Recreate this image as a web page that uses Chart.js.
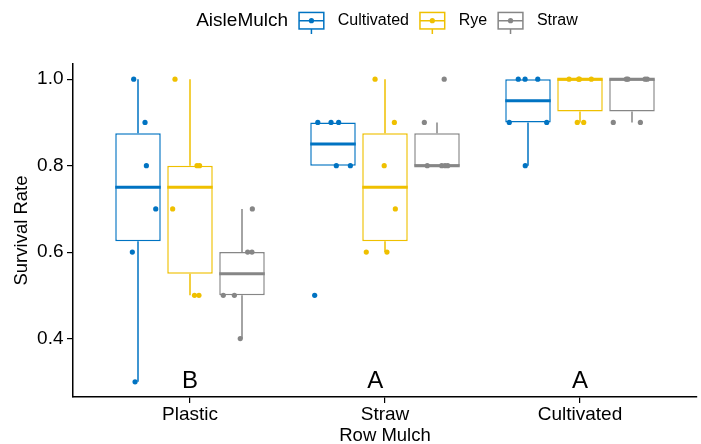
<!DOCTYPE html>
<html>
<head>
<meta charset="utf-8">
<script src="https://cdn.jsdelivr.net/npm/chart.js@4"></script>
<style>
  html, body { margin: 0; padding: 0; background: #ffffff; }
  #wrap { width: 701px; height: 444px; }
</style>
</head>
<body>
<div id="wrap"><canvas id="c" width="701" height="444"></canvas></div>
<script>
// Row mulch treatments (x categories) and aisle mulch groups (fill/colour groups)
const ROW_MULCH = ['Plastic', 'Straw', 'Cultivated'];
const AISLE_MULCH = ['Cultivated', 'Rye', 'Straw'];

// Survival rate observations per aisle mulch, one list per row mulch
const SURV_CULTIVATED = [
  [1.0, 0.9, 0.8, 0.7, 0.6, 0.3],
  [0.9, 0.9, 0.9, 0.8, 0.8, 0.5],
  [1.0, 1.0, 1.0, 0.9, 0.9, 0.8]
];
const SURV_RYE = [
  [1.0, 0.8, 0.8, 0.7, 0.5, 0.5],
  [1.0, 0.9, 0.8, 0.7, 0.6, 0.6],
  [1.0, 1.0, 1.0, 1.0, 0.9, 0.9]
];
const SURV_STRAW = [
  [0.7, 0.6, 0.6, 0.5, 0.5, 0.4],
  [1.0, 0.9, 0.8, 0.8, 0.8, 0.8],
  [1.0, 1.0, 1.0, 1.0, 0.9, 0.9]
];

// Horizontal jitter of each observation (category units, relative to its box)
const JITTER_CULTIVATED = [
  [-0.022, 0.036, 0.043, 0.091, -0.029, -0.015],
  [-0.078, -0.010, 0.029, 0.017, 0.089, -0.094],
  [-0.050, -0.015, 0.050, -0.096, 0.096, -0.014]
];
const JITTER_RYE = [
  [-0.077, 0.036, 0.049, -0.089, 0.023, 0.046],
  [-0.051, 0.048, -0.004, 0.053, -0.096, 0.010],
  [-0.056, -0.007, 0.058, -0.003, -0.014, 0.019]
];
const JITTER_STRAW = [
  [0.053, 0.029, 0.051, -0.096, -0.039, -0.009],
  [0.037, -0.065, -0.050, 0.024, 0.041, 0.055],
  [-0.029, 0.078, -0.021, 0.067, -0.096, 0.043]
];

// Y axis ticks
const Y_TICKS = [0.4, 0.6, 0.8, 1.0];

// Significance letters per row mulch
const SIG_LETTERS = ['B', 'A', 'A'];
const SIG_X = [1, 1.95, 3];
const SIG_Y = 0.3;

// ---- styling / geometry ----
const COLORS = ['#0073C2', '#EFC000', '#868686'];
const DODGE = 0.8 / 3;        // spacing between dodged boxes
const BOX_FRAC = 0.875;       // box width as share of a dodge slot
const FONT = '"Liberation Sans", Arial, Helvetica, sans-serif';

const SURV = [SURV_CULTIVATED, SURV_RYE, SURV_STRAW];
const JITTER = [JITTER_CULTIVATED, JITTER_RYE, JITTER_STRAW];

function quantile(sorted, p) {
  const h = (sorted.length - 1) * p;
  const lo = Math.floor(h);
  const hi = Math.min(lo + 1, sorted.length - 1);
  return sorted[lo] + (h - lo) * (sorted[hi] - sorted[lo]);
}
function boxStats(vals) {
  const s = [...vals].sort((a, b) => a - b);
  const q1 = quantile(s, 0.25), med = quantile(s, 0.5), q3 = quantile(s, 0.75);
  const iqr = q3 - q1;
  const inside = s.filter(v => v >= q1 - 1.5 * iqr - 1e-9 && v <= q3 + 1.5 * iqr + 1e-9);
  return { q1, med, q3, lo: Math.min(...inside), hi: Math.max(...inside) };
}

const halfBox = DODGE * BOX_FRAC / 2;
const datasets = [];

AISLE_MULCH.forEach((name, g) => {
  const color = COLORS[g];
  const pts = [], boxes = [], medians = [], whiskers = [];
  ROW_MULCH.forEach((_, r) => {
    const pos = r + 1 + (g - 1) * DODGE;
    const st = boxStats(SURV[g][r]);
    boxes.push({ x: pos, y: [st.q1, st.q3] });
    medians.push({ x: pos - halfBox, y: st.med }, { x: pos + halfBox, y: st.med }, { x: pos, y: null });
    if (st.hi > st.q3) whiskers.push({ x: pos, y: st.q3 }, { x: pos, y: st.hi }, { x: pos, y: null });
    if (st.lo < st.q1) whiskers.push({ x: pos, y: st.q1 }, { x: pos, y: st.lo }, { x: pos, y: null });
    SURV[g][r].forEach((v, i) => pts.push({ x: pos + JITTER[g][r][i], y: v }));
  });

  datasets.push({
    type: 'scatter', label: name, data: pts, order: 0,
    backgroundColor: color, borderWidth: 0,
    pointRadius: 2.6, pointHoverRadius: 2.6, showLine: false
  });
  datasets.push({
    type: 'line', label: name + ' median', data: medians, order: 1,
    borderColor: color, borderWidth: 3, borderCapStyle: 'butt',
    pointRadius: 0, pointHoverRadius: 0, fill: false, spanGaps: false, tension: 0
  });
  datasets.push({
    type: 'line', label: name + ' whisker', data: whiskers, order: 2,
    borderColor: color, borderWidth: 1.5, borderCapStyle: 'butt',
    pointRadius: 0, pointHoverRadius: 0, fill: false, spanGaps: false, tension: 0
  });
  datasets.push({
    type: 'bar', label: name + ' box', data: boxes, order: 3,
    backgroundColor: '#ffffff', borderColor: color, borderWidth: 1.5,
    borderSkipped: false, grouped: false,
    barPercentage: BOX_FRAC, categoryPercentage: 1
  });
});

// Significance letters above the x axis
const letterPlugin = {
  id: 'sigLetters',
  afterDatasetsDraw(chart) {
    const { ctx, scales: { x, y } } = chart;
    ctx.save();
    ctx.font = '24px ' + FONT;
    ctx.fillStyle = '#000';
    ctx.textAlign = 'center';
    ctx.textBaseline = 'middle';
    SIG_LETTERS.forEach((t, i) => ctx.fillText(t, x.getPixelForValue(SIG_X[i]), y.getPixelForValue(SIG_Y)));
    ctx.restore();
  }
};

// Legend row: title followed by boxplot keys, centred over the plot panel
const legendPlugin = {
  id: 'boxLegend',
  afterDraw(chart) {
    const { ctx, chartArea } = chart;
    const titleFont = '19px ' + FONT, labelFont = '16px ' + FONT;
    const key = 33, bw = key * 0.75, bh = key * 0.5;
    const gapBefore = 11, gapAfter = 14;
    ctx.save();
    ctx.font = titleFont;
    const titleW = ctx.measureText('AisleMulch').width;
    ctx.font = labelFont;
    const labelW = AISLE_MULCH.map(t => ctx.measureText(t).width);
    let total = titleW;
    labelW.forEach(w => { total += gapBefore + bw + gapAfter + w; });
    let x = (chartArea.left + chartArea.right) / 2 + 2 - total / 2;
    const cy = 21;
    ctx.fillStyle = '#000';
    ctx.textBaseline = 'middle';
    ctx.textAlign = 'left';
    ctx.font = titleFont;
    ctx.fillText('AisleMulch', x, cy);
    x += titleW + gapBefore;
    AISLE_MULCH.forEach((t, g) => {
      const c = COLORS[g];
      const kx = x + bw / 2, ky = cy - 0.3;
      ctx.strokeStyle = c;
      ctx.lineWidth = 1.5;
      ctx.strokeRect(kx - bw / 2, ky - bh / 2, bw, bh);
      ctx.beginPath();
      ctx.moveTo(kx - bw / 2, ky); ctx.lineTo(kx + bw / 2, ky);
      ctx.moveTo(kx, ky + bh / 2); ctx.lineTo(kx, ky + key * 0.4);
      ctx.stroke();
      ctx.fillStyle = c;
      ctx.beginPath(); ctx.arc(kx, ky, 2.6, 0, Math.PI * 2); ctx.fill();
      x += bw + gapAfter;
      ctx.fillStyle = '#000';
      ctx.font = labelFont;
      ctx.fillText(t, x, cy);
      x += labelW[g] + gapBefore;
    });
    ctx.restore();
  }
};

Chart.defaults.font.family = FONT;
Chart.defaults.color = '#000';

new Chart(document.getElementById('c'), {
  type: 'bar',
  data: { datasets },
  plugins: [letterPlugin, legendPlugin],
  options: {
    responsive: false,
    animation: false,
    devicePixelRatio: 1,
    layout: { padding: { top: 64, right: 4, bottom: 0, left: 0 } },
    plugins: { legend: { display: false }, tooltip: { enabled: false } },
    scales: {
      x: {
        type: 'linear', min: 0.4, max: 3.6, offset: false,
        afterBuildTicks: s => { s.ticks = ROW_MULCH.map((_, i) => ({ value: i + 1 })); },
        afterFit: s => { s.height = 47; },
        ticks: {
          callback: v => ROW_MULCH[Math.round(v) - 1],
          font: { size: 19 }, color: '#000', padding: 0, maxRotation: 0, autoSkip: false
        },
        grid: { offset: false, drawOnChartArea: false, drawTicks: true, tickLength: 6, color: '#000', lineWidth: 1.2 },
        border: { display: true, color: '#000', width: 1.5 },
        title: { display: true, text: 'Row Mulch', font: { size: 18.5, lineHeight: 1 }, color: '#000', padding: { top: 0, bottom: -1 } }
      },
      y: {
        type: 'linear', min: 0.265, max: 1.035,
        afterBuildTicks: s => { s.ticks = Y_TICKS.map(v => ({ value: v })); },
        afterFit: s => { s.width = 73; },
        ticks: {
          callback: v => v.toFixed(1),
          font: { size: 19 }, color: '#000', padding: 3.5
        },
        grid: { drawOnChartArea: false, drawTicks: true, tickLength: 6, color: '#000', lineWidth: 1.2 },
        border: { display: true, color: '#000', width: 1.5 },
        title: { display: true, text: 'Survival Rate', font: { size: 18.5, lineHeight: 1 }, color: '#000', padding: { top: 13, bottom: 0 } }
      }
    }
  }
});
</script>
</body>
</html>
